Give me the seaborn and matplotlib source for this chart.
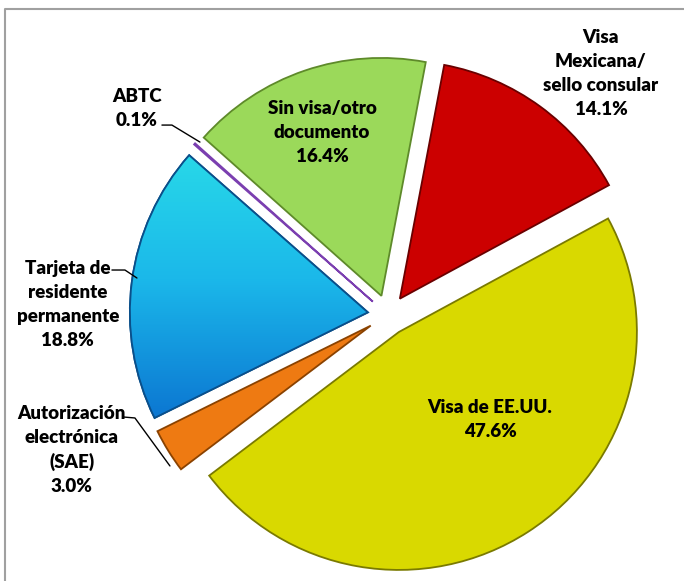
import numpy as np
import matplotlib
matplotlib.use("Agg")
import matplotlib.pyplot as plt
import seaborn as sns
from matplotlib.lines import Line2D

sns.set_theme(style="white")
plt.rcParams['font.family'] = ['Lato', 'DejaVu Sans']

# Data
categories = ["Visa de EE.UU.", "Autorización\nelectrónica\n(SAE)",
              "Tarjeta de\nresidente\npermanente", "ABTC",
              "Sin visa/otro\ndocumento", "Visa\nMexicana/\nsello consular"]
shares = [47.6, 3.0, 18.8, 0.1, 16.4, 14.1]
pct_labels = ["47.6%", "3.0%", "18.8%", "0.1%", "16.4%", "14.1%"]

colors = ["#D9D900", "#EE7A12", "#1AA8E6", "#7B3FB0", "#9BD95A", "#CC0000"]
edge_colors = ["#7A7A00", "#8A4200", "#0A4F8A", "#7B3FB0", "#5E8A2A", "#6A0000"]

fig = plt.figure(figsize=(6.84, 5.81), dpi=100)
ax = fig.add_axes([0, 0, 1, 1])

wedges, _ = ax.pie(shares, colors=colors, startangle=28.5, counterclock=False,
                   explode=[0.085] * len(shares), radius=1.0,
                   wedgeprops=dict(linewidth=1.3))
for w, ec in zip(wedges, edge_colors):
    w.set_edgecolor(ec)

# gradient on the blue slice (cyan top -> blue bottom)
blue = wedges[2]
cmap = matplotlib.colors.LinearSegmentedColormap.from_list("b", ["#0A6FCF", "#1BB8EA", "#2BE0E8"])
grad = np.linspace(0, 1, 256).reshape(-1, 1)
img = ax.imshow(grad, extent=(-1.2, 0.0, -0.5, 0.8), origin="lower", cmap=cmap,
                aspect="auto", zorder=blue.get_zorder() + 0.1)
img.set_clip_path(blue)
blue_edge = matplotlib.patches.Wedge(blue.center, blue.r, blue.theta1, blue.theta2,
                                     fill=False, edgecolor=edge_colors[2], linewidth=1.3,
                                     zorder=blue.get_zorder() + 0.2)
ax.add_patch(blue_edge)

ax.set_xlim(-1.630, 1.244)
ax.set_ylim(-1.118, 1.324)
ax.set_aspect("auto")
ax.axis("off")

font = dict(fontsize=13.5, fontweight="heavy", color="black", ha="center", va="center",
            linespacing=1.5)

# label positions (data coords)
text_pos = [(0.429, -0.441), (-1.328, -0.567), (-1.345, 0.046),
            (-1.055, 0.870), (-0.277, 0.769), (0.895, 1.017)]
for cat, pct, (x, y) in zip(categories, pct_labels, text_pos):
    ax.text(x, y, f"{cat}\n{pct}", **font)


def px(x, y):
    return ((x - 388) / 238, (315 - y) / 238)


leaders = [
    [(162, 125), (172, 125), (200, 142)],
    [(112, 270), (125, 270), (137, 278)],
    [(123, 417), (135, 418), (170, 466)],
]
for pts in leaders:
    xs, ys = zip(*[px(*p) for p in pts])
    ax.plot(xs, ys, color="black", lw=1.0, zorder=5)

# chart frame
fy = 1 - 9 / 581
fx = 5 / 684
fig.add_artist(Line2D([fx, fx, 1], [0, fy, fy], color="#A0A0A0", lw=1.5))

fig.savefig("out.png", dpi=100)
